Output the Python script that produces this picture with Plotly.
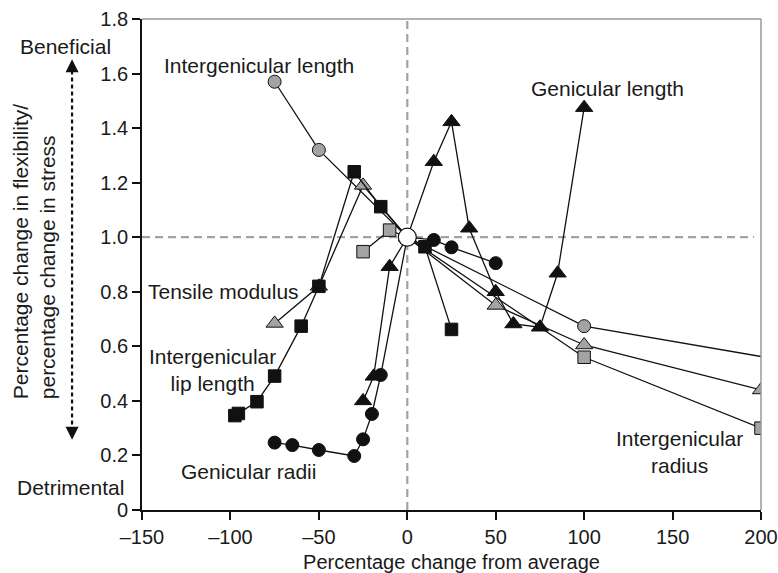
import plotly.graph_objects as go

# ---- data ----
il_x = [-75, -50, 0, 100, 250]
il_y = [1.57, 1.32, 1.0, 0.674, 0.507]

tm_x = [-75, -50, -25, 0, 50, 100, 200]
tm_y = [0.684, 0.82, 1.19, 1.0, 0.75, 0.605, 0.44]

ir_x = [-25, -10, 0, 100, 200]
ir_y = [0.947, 1.026, 1.0, 0.56, 0.30]

lip_x = [-97.5, -95.5, -85, -75, -60, -50, -30, -15, 0, 10, 25]
lip_y = [0.346, 0.354, 0.397, 0.491, 0.674, 0.82, 1.24, 1.112, 1.0, 0.965, 0.662]

gl_x = [-25, -19, -10, 0, 15, 25, 35, 50, 60, 75, 85, 100]
gl_y = [0.40, 0.49, 0.892, 1.0, 1.277, 1.423, 1.033, 0.80, 0.682, 0.67, 0.868, 1.475]

gr_x = [-75, -65, -50, -30, -25, -20, -15, 0, 15, 25, 50]
gr_y = [0.247, 0.238, 0.22, 0.198, 0.259, 0.352, 0.495, 1.0, 0.99, 0.963, 0.905]

origin_x = [0]
origin_y = [1.0]

x_ticks = [-150, -100, -50, 0, 50, 100, 150, 200]
x_ticktext = ["\u2013150", "\u2013100", "\u201350", "0", "50", "100", "150", "200"]
y_ticks = [0, 0.2, 0.4, 0.6, 0.8, 1.0, 1.2, 1.4, 1.6, 1.8]
y_ticktext = ["0", "0.2", "0.4", "0.6", "0.8", "1.0", "1.2", "1.4", "1.6", "1.8"]

FONT = "Liberation Sans, Arial, sans-serif"
TXT = "#1a1a1a"
GRAY = "#a3a3a3"
LINE = dict(color="#111111", width=1.3)

fig = go.Figure()

def add(x, y, symbol, fill, size):
    fig.add_trace(go.Scatter(
        x=x, y=y, mode="lines+markers", line=LINE,
        marker=dict(symbol=symbol, color=fill, size=size,
                    line=dict(color="#111111", width=1)),
        showlegend=False, hoverinfo="skip"))

add(il_x, il_y, "circle", GRAY, 13)
add(tm_x, tm_y, "triangle-up", GRAY, 15)
add(ir_x, ir_y, "square", GRAY, 12.5)
add(gr_x, gr_y, "circle", "#111111", 13)
add(gl_x, gl_y, "triangle-up", "#111111", 15)
add(lip_x, lip_y, "square", "#111111", 12.5)

fig.add_trace(go.Scatter(
    x=origin_x, y=origin_y, mode="markers",
    marker=dict(symbol="circle", color="white", size=18,
                line=dict(color="#111111", width=1.2)),
    showlegend=False, hoverinfo="skip"))

AX = -0.113  # paper x of the beneficial/detrimental arrow

shapes = [
    dict(type="line", xref="x", yref="y", x0=-150, x1=196, y0=1.0, y1=1.0,
         line=dict(color=GRAY, width=2.2, dash="8px,5px"), layer="below"),
    dict(type="line", xref="x", yref="y", x0=0, x1=0, y0=0, y1=1.8,
         line=dict(color=GRAY, width=2.2, dash="8px,5px"), layer="below"),
    dict(type="line", xref="paper", yref="paper", x0=0, x1=1, y0=1, y1=1,
         line=dict(color="#999999", width=1.5)),
    dict(type="line", xref="paper", yref="paper", x0=1, x1=1, y0=0, y1=1,
         line=dict(color="#999999", width=1.5)),
    dict(type="line", xref="paper", yref="paper", x0=AX, x1=AX,
         y0=0.16, y1=0.90, line=dict(color="#111111", width=2.2, dash="4px,3px")),
]

ann_font = dict(family=FONT, size=21, color=TXT)

def lab(x, y, text, **kw):
    d = dict(x=x, y=y, text=text, showarrow=False, font=ann_font,
             xanchor="center", yanchor="middle")
    d.update(kw)
    return d

annotations = [
    lab(-84, 1.631, "Intergenicular length"),
    lab(113, 1.547, "Genicular length"),
    lab(-104, 0.80, "Tensile modulus"),
    lab(-110, 0.513, "Intergenicular<br>lip length"),
    lab(-90, 0.14, "Genicular radii"),
    lab(154, 0.211, "Intergenicular<br>radius"),
    lab(-0.1228, 0.943, "Beneficial", xref="paper", yref="paper"),
    lab(-0.1155, 0.0465, "Detrimental", xref="paper", yref="paper"),
    lab(-0.1745, 0.527,
        "Percentage change in flexibility/<br>percentage change in stress",
        xref="paper", yref="paper", textangle=-90, align="left"),
    dict(xref="paper", yref="paper", x=AX, y=0.918, ax=0, ay=14, text="",
         showarrow=True, arrowhead=2, arrowsize=1.3, arrowwidth=2, arrowcolor="#111111"),
    dict(xref="paper", yref="paper", x=AX, y=0.143, ax=0, ay=-14, text="",
         showarrow=True, arrowhead=2, arrowsize=1.3, arrowwidth=2, arrowcolor="#111111"),
]

fig.update_layout(
    width=778, height=573,
    margin=dict(l=142, r=17, t=19, b=63),
    paper_bgcolor="white", plot_bgcolor="white",
    font=dict(family=FONT, size=20, color=TXT),
    shapes=shapes, annotations=annotations,
    xaxis=dict(range=[-150, 200], tickvals=x_ticks, ticktext=x_ticktext,
               automargin=False,
               showgrid=False, zeroline=False, showline=True, linecolor="#111111",
               linewidth=1.8, ticks="outside", ticklen=8, tickwidth=1.5,
               tickcolor="#111111",
               title=dict(text="Percentage change from average", standoff=10,
                          font=dict(family=FONT, size=20, color=TXT))),
    yaxis=dict(range=[0, 1.8], tickvals=y_ticks, ticktext=y_ticktext,
               automargin=False,
               showgrid=False, zeroline=False, showline=True, linecolor="#111111",
               linewidth=1.8, ticks="outside", ticklen=8, tickwidth=1.5,
               tickcolor="#111111"),
)

fig.write_html("out.html")
